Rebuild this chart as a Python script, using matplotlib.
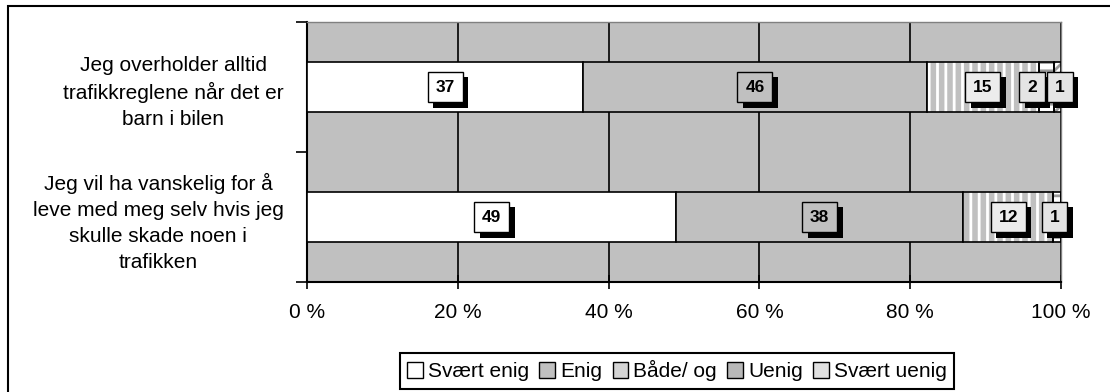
import matplotlib.pyplot as plt
import matplotlib.patheffects as pe
import numpy as np
from matplotlib.patches import Rectangle

plt.rcParams['font.family'] = ['Liberation Sans', 'DejaVu Sans']
plt.rcParams['hatch.linewidth'] = 2.0

# Survey answers in percent, one list per answer option
statements = ['Jeg overholder alltid\ntrafikkreglene når det er\nbarn i bilen',
              'Jeg vil ha vanskelig for å\nleve med meg selv hvis jeg\nskulle skade noen i\ntrafikken']
answers = ['Svært enig', 'Enig', 'Både/ og', 'Uenig', 'Svært uenig']
svaert_enig = [37, 49]
enig = [46, 38]
baade_og = [15, 12]
uenig = [2, 1]
svaert_uenig = [1, 0]

series = [svaert_enig, enig, baade_og, uenig, svaert_uenig]
faces = ['white', '#c0c0c0', '#c0c0c0', 'white', 'white']
hatches = [None, None, '||', '--', '////']
hatch_cols = [None, None, 'white', '#9a9a9a', '#9a9a9a']
label_faces = ['white', '#c0c0c0', '#ececec', '#e4e4e4', '#e4e4e4']
legend_faces = ['white', '#c0c0c0', '#d4d4d4', '#b8b8b8', '#e0e0e0']
# small sideways nudges (points) so neighbouring labels don't collide
nudges = {(0, 3): -10, (0, 4): 2, (1, 3): -2}

fig = plt.figure(figsize=(11.1, 3.92), dpi=100)
ax = fig.add_axes([307 / 1110, 1 - 282 / 392, (1061 - 307) / 1110, (282 - 22) / 392])
ax.set_facecolor('#c0c0c0')

data = np.array(series, dtype=float)
totals = data.sum(axis=0)
pct = data / totals * 100
y = np.arange(len(statements))
height = 0.38

shadow = [pe.SimplePatchShadow(offset=(4, -4), shadow_rgbFace='black', alpha=1), pe.Normal()]

left = np.zeros(len(statements))
for i, name in enumerate(answers):
    w = pct[i]
    if hatches[i]:
        ax.barh(y, w, height, left=left, color=faces[i], edgecolor=hatch_cols[i],
                hatch=hatches[i], linewidth=0, zorder=3)
        ax.barh(y, w, height, left=left, color='none', edgecolor='black',
                linewidth=1.2, zorder=4)
    else:
        ax.barh(y, w, height, left=left, color=faces[i], edgecolor='black',
                linewidth=1.2, zorder=3)
    # value labels in boxes with a drop shadow
    for j in range(len(statements)):
        val = data[i][j]
        if val == 0:
            continue
        cx = left[j] + w[j] / 2
        t = ax.annotate(f'{int(val)}', (cx, y[j]), xytext=(nudges.get((j, i), 0), 0),
                        textcoords='offset points', ha='center', va='center',
                        fontsize=12.5, fontweight='bold', color='black',
                        bbox=dict(boxstyle='square,pad=0.45', fc=label_faces[i], ec='black', lw=1),
                        zorder=7)
        t.get_bbox_patch().set_path_effects(shadow)
    left = left + w

# proxy handles for the legend
for i, name in enumerate(answers):
    ax.bar([0], [0], color=legend_faces[i], edgecolor='black', linewidth=1.0, label=name)

ax.set_xlim(0, 100)
ax.set_ylim(-0.5, 1.5)
ax.invert_yaxis()

ax.set_xticks(np.arange(0, 101, 20))
ax.set_xticklabels([f'{t} %' for t in range(0, 101, 20)], fontsize=15)
ax.tick_params(axis='x', direction='inout', length=10, width=1.2, pad=10)
ax.xaxis.grid(True, color='black', linewidth=1.2, zorder=1)
ax.set_axisbelow(True)

ax.set_yticks(y)
ax.set_yticklabels(statements, fontsize=15, multialignment='center', linespacing=1.45)
ax.tick_params(axis='y', which='major', length=0, pad=17)
ax.set_yticks([-0.5, 0.5, 1.5], minor=True)
ax.tick_params(axis='y', which='minor', direction='out', length=8, width=1.2)

for side in ['left', 'bottom']:
    ax.spines[side].set_color('black')
    ax.spines[side].set_linewidth(1.5)
for side in ['top', 'right']:
    ax.spines[side].set_color('#808080')
    ax.spines[side].set_linewidth(1.0)

leg = fig.legend(loc='center', bbox_to_anchor=(0.61, 0.054), ncol=5, fontsize=15,
                 frameon=True, fancybox=False, edgecolor='black', framealpha=1,
                 handlelength=0.75, handleheight=0.75, handletextpad=0.25,
                 columnspacing=0.5, borderpad=0.35, borderaxespad=0)
leg.get_frame().set_linewidth(1.5)

# outer chart frame
fig.add_artist(Rectangle((8 / 1110, -0.2), 1.2, 1.2 - 6 / 392, transform=fig.transFigure,
                         fill=False, edgecolor='black', linewidth=1.5))

fig.savefig('out.png', dpi=100)
